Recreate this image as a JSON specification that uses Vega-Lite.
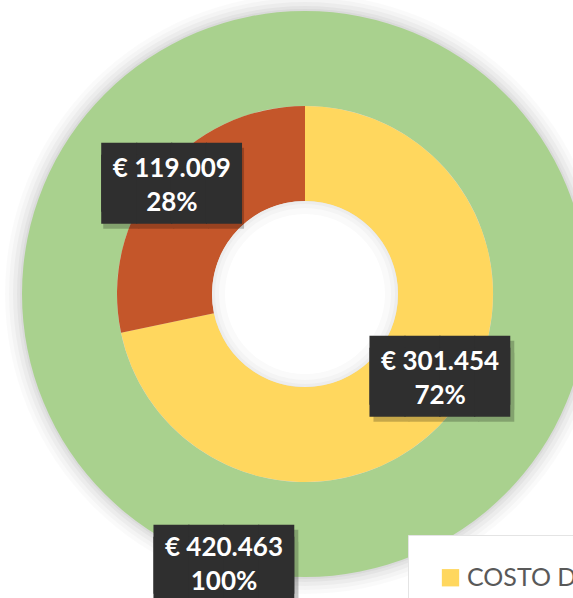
{
  "$schema": "https://vega.github.io/schema/vega-lite/v6.json",
  "width": 536,
  "height": 588,
  "autosize": "none",
  "padding": {"left": 37, "top": 0, "right": 0, "bottom": 10},
  "background": "white",
  "datasets": {
    "inner": [
      {"cat": "COSTO DIRETTO", "value": 301454, "pct": 0.72},
      {"cat": "COSTO INDIRETTO", "value": 119009, "pct": 0.28}
    ],
    "outer": [
      {"cat": "COSTO TOTALE", "value": 420463, "pct": 1}
    ]
  },
  "layer": [
    {
      "data": {"name": "outer"},
      "encoding": {"theta": {"field": "value", "type": "quantitative", "stack": true}},
      "layer": [
        {"mark": {"type": "arc", "radius": 300, "radius2": 0, "fill": "black", "opacity": 0.02}},
        {"mark": {"type": "arc", "radius": 296, "radius2": 0, "fill": "black", "opacity": 0.025}},
        {"mark": {"type": "arc", "radius": 292, "radius2": 0, "fill": "black", "opacity": 0.03}},
        {"mark": {"type": "arc", "radius": 288, "radius2": 0, "fill": "black", "opacity": 0.035}},
        {"mark": {"type": "arc", "radius": 285, "radius2": 0, "fill": "black", "opacity": 0.04}}
      ]
    },
    {
      "data": {"name": "outer"},
      "mark": {"type": "arc", "radius": 283, "radius2": 188},
      "encoding": {
        "theta": {"field": "value", "type": "quantitative", "stack": true},
        "order": {"field": "cat", "type": "nominal", "sort": "ascending"},
        "color": {"field": "cat", "type": "nominal"}
      }
    },
    {
      "data": {"name": "inner"},
      "mark": {"type": "arc", "radius": 188, "radius2": 93},
      "encoding": {
        "theta": {"field": "value", "type": "quantitative", "stack": true},
        "order": {"field": "cat", "type": "nominal", "sort": "ascending"},
        "color": {"field": "cat", "type": "nominal"}
      }
    },
    {
      "data": {"name": "outer"},
      "encoding": {"theta": {"field": "value", "type": "quantitative", "stack": true}},
      "layer": [
        {"mark": {"type": "arc", "radius": 93, "radius2": 0, "fill": "#ededed"}},
        {"mark": {"type": "arc", "radius": 90, "radius2": 0, "fill": "#f4f4f4"}},
        {"mark": {"type": "arc", "radius": 86, "radius2": 0, "fill": "#fafafa"}},
        {"mark": {"type": "arc", "radius": 80, "radius2": 0, "fill": "#ffffff"}}
      ]
    },
    {
      "data": {"name": "inner"},
      "encoding": {
        "theta": {"field": "value", "type": "quantitative", "stack": true},
        "order": {"field": "cat", "type": "nominal", "sort": "ascending"},
        "detail": {"field": "cat", "type": "nominal"},
        "opacity": {"condition": {"test": "datum.cat === 'COSTO INDIRETTO'", "value": 1}, "value": 0}
      },
      "layer": [
        {"mark": {"type": "text", "radius": 174, "font": "DejaVu Sans Mono", "fontSize": 58, "lineHeight": 12, "align": "center", "baseline": "middle", "dx": 4, "dy": 1, "color": "#000000"},
         "encoding": {"text": {"value": ["████", "████"]}, "opacity": {"condition": {"test": "datum.cat === 'COSTO INDIRETTO'", "value": 0.22}, "value": 0}}},
        {"mark": {"type": "text", "radius": 174, "font": "DejaVu Sans Mono", "fontSize": 58, "lineHeight": 12, "align": "center", "baseline": "middle", "dx": 2, "dy": -4, "color": "#2f2f2f"},
         "encoding": {"text": {"value": ["████", "████"]}}},
        {"mark": {"type": "text", "radius": 174, "font": "Lato", "fontWeight": "bold", "fontSize": 26, "align": "center", "baseline": "middle", "dx": 2, "dy": -15, "color": "white"},
         "encoding": {"text": {"field": "value", "type": "quantitative", "format": "$,.0f"}}},
        {"mark": {"type": "text", "radius": 174, "font": "Lato", "fontWeight": "bold", "fontSize": 26, "align": "center", "baseline": "middle", "dx": 2, "dy": 19, "color": "white"},
         "encoding": {"text": {"field": "pct", "type": "quantitative", "format": ".0%"}}}
      ]
    },
    {
      "data": {"name": "inner"},
      "encoding": {
        "theta": {"field": "value", "type": "quantitative", "stack": true},
        "order": {"field": "cat", "type": "nominal", "sort": "ascending"},
        "detail": {"field": "cat", "type": "nominal"},
        "opacity": {"condition": {"test": "datum.cat === 'COSTO DIRETTO'", "value": 1}, "value": 0}
      },
      "layer": [
        {"mark": {"type": "text", "radius": 174, "font": "DejaVu Sans Mono", "fontSize": 58, "lineHeight": 12, "align": "center", "baseline": "middle", "dx": 4, "dy": -26, "color": "#000000"},
         "encoding": {"text": {"value": ["████", "████"]}, "opacity": {"condition": {"test": "datum.cat === 'COSTO DIRETTO'", "value": 0.22}, "value": 0}}},
        {"mark": {"type": "text", "radius": 174, "font": "DejaVu Sans Mono", "fontSize": 58, "lineHeight": 12, "align": "center", "baseline": "middle", "dy": -31, "color": "#2f2f2f"},
         "encoding": {"text": {"value": ["████", "████"]}}},
        {"mark": {"type": "text", "radius": 174, "font": "Lato", "fontWeight": "bold", "fontSize": 26, "align": "center", "baseline": "middle", "dy": -42, "color": "white"},
         "encoding": {"text": {"field": "value", "type": "quantitative", "format": "$,.0f"}}},
        {"mark": {"type": "text", "radius": 174, "font": "Lato", "fontWeight": "bold", "fontSize": 26, "align": "center", "baseline": "middle", "dy": -8, "color": "white"},
         "encoding": {"text": {"field": "pct", "type": "quantitative", "format": ".0%"}}}
      ]
    },
    {
      "data": {"name": "outer"},
      "encoding": {
        "theta": {"field": "value", "type": "quantitative", "stack": true},
        "order": {"field": "cat", "type": "nominal", "sort": "ascending"},
        "detail": {"field": "cat", "type": "nominal"}
      },
      "layer": [
        {"mark": {"type": "text", "radius": 268, "font": "DejaVu Sans Mono", "fontSize": 58, "lineHeight": 12, "align": "center", "baseline": "middle", "dx": -77, "dy": 5, "color": "#000000", "opacity": 0.22},
         "encoding": {"text": {"value": ["████", "████"]}}},
        {"mark": {"type": "text", "radius": 268, "font": "DejaVu Sans Mono", "fontSize": 58, "lineHeight": 12, "align": "center", "baseline": "middle", "dx": -81, "color": "#2f2f2f"},
         "encoding": {"text": {"value": ["████", "████"]}}},
        {"mark": {"type": "text", "radius": 268, "font": "Lato", "fontWeight": "bold", "fontSize": 26, "align": "center", "baseline": "middle", "dx": -81, "dy": -14, "color": "white"},
         "encoding": {"text": {"field": "value", "type": "quantitative", "format": "$,.0f"}}},
        {"mark": {"type": "text", "radius": 268, "font": "Lato", "fontWeight": "bold", "fontSize": 26, "align": "center", "baseline": "middle", "dx": -81, "dy": 20, "color": "white"},
         "encoding": {"text": {"field": "pct", "type": "quantitative", "format": ".0%"}}}
      ]
    }
  ],
  "resolve": {"scale": {"opacity": "independent"}},
  "config": {
    "view": {"stroke": null},
    "locale": {"number": {"decimal": ",", "thousands": ".", "grouping": [3], "currency": ["€ ", ""]}},
    "range": {"category": ["#FFD75E", "#C4562A", "#A9D18E"]},
    "legend": {
      "orient": "none",
      "legendX": 371,
      "legendY": 535,
      "direction": "horizontal",
      "title": null,
      "symbolType": "square",
      "symbolSize": 300,
      "symbolStrokeWidth": 0,
      "labelFont": "Lato",
      "labelFontSize": 25,
      "labelColor": "#595959",
      "labelLimit": 0,
      "padding": 30,
      "fillColor": "white",
      "strokeColor": "#e4e4e4",
      "columnPadding": 20
    }
  }
}
